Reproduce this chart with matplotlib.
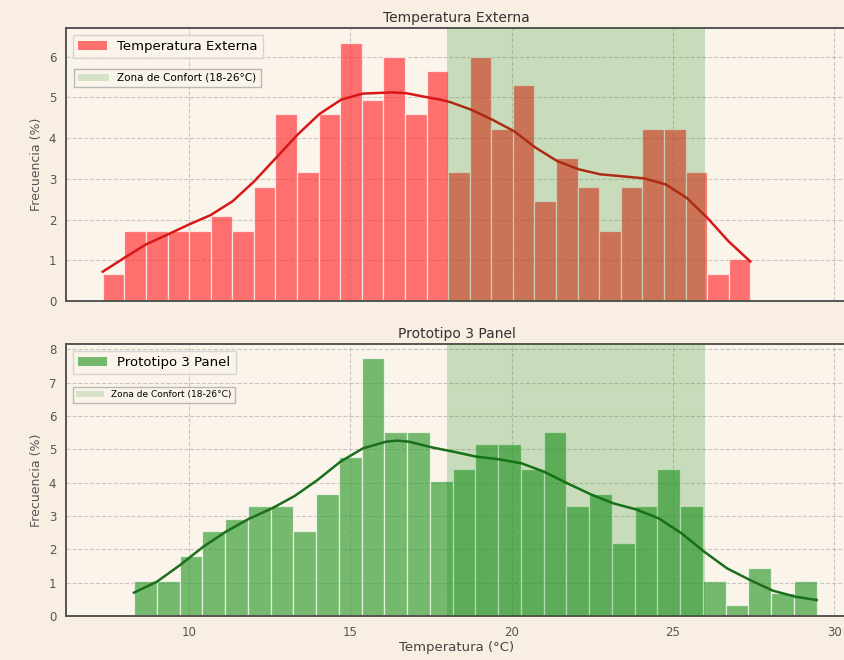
import numpy as np
import matplotlib
matplotlib.use('Agg')
import matplotlib.pyplot as plt
from matplotlib.patches import Patch

# bin ranges (degC) and bar heights (%), 30 bins each
ext_range = (7.32, 27.40)
ext_pct = [0.67, 1.73, 1.73, 1.73, 1.73, 2.09, 1.73, 2.80, 4.59, 3.16,
           4.59, 6.33, 4.93, 5.98, 4.59, 5.64, 3.16, 5.98, 4.22, 5.29,
           2.45, 3.51, 2.80, 1.73, 2.80, 4.22, 4.22, 3.16, 0.67, 1.02]

p3_range = (8.29, 29.46)
p3_pct = [1.06, 1.06, 1.80, 2.55, 2.92, 3.30, 3.30, 2.55, 3.67, 4.78,
          7.75, 5.52, 5.52, 4.05, 4.40, 5.15, 5.15, 4.40, 5.52, 3.30,
          3.67, 2.20, 3.30, 4.40, 3.30, 1.06, 0.33, 1.44, 0.70, 1.06]

# kde curves
ext_kde_t = [7.32, 7.99, 8.66, 9.33, 10.0, 10.67, 11.35, 12.02, 12.69, 13.37,
             14.04, 14.71, 15.38, 16.3, 16.73, 17.38, 17.8, 18.1, 18.73, 19.40,
             20.07, 20.75, 21.42, 22.09, 22.74, 23.44, 24.11, 24.78, 25.43, 26.07,
             26.72, 27.40]
ext_kde_v = [0.72, 1.06, 1.39, 1.63, 1.88, 2.11, 2.45, 2.94, 3.51, 4.09,
             4.59, 4.94, 5.09, 5.12, 5.10, 5.00, 4.94, 4.88, 4.70, 4.45,
             4.17, 3.76, 3.43, 3.23, 3.11, 3.06, 3.01, 2.86, 2.53, 2.04,
             1.47, 0.97]

p3_kde_t = [8.29, 9.0, 9.72, 10.44, 11.14, 11.84, 12.57, 13.27, 13.98, 14.69,
            15.39, 16.11, 16.45, 16.81, 17.52, 18.19, 18.90, 19.61, 20.31, 21.0,
            21.73, 22.43, 23.15, 23.85, 24.56, 25.27, 25.97, 26.68, 27.39, 28.10,
            28.79, 29.46]
p3_kde_v = [0.70, 1.03, 1.53, 2.08, 2.53, 2.91, 3.23, 3.60, 4.08, 4.63,
            5.03, 5.23, 5.26, 5.23, 5.06, 4.93, 4.78, 4.70, 4.58, 4.33,
            3.98, 3.66, 3.38, 3.20, 2.93, 2.48, 1.93, 1.43, 1.08, 0.76,
            0.58, 0.48]

comfort = (18, 26)

bg = '#f8eee2'
face = '#fbf4ea'

fig = plt.figure(figsize=(8.45, 6.6), dpi=100, facecolor=bg)
ax1 = fig.add_axes([66/845, 1-301/660, 781/845, 273/660])
ax2 = fig.add_axes([66/845, 1-616/660, 781/845, 272/660])

panels = [
    (ax1, ext_range, ext_pct, ext_kde_t, ext_kde_v, '#ff2a2a', '#d81818', 'Temperatura Externa', 6.7, 7, 9.5, 7.5, 0.87),
    (ax2, p3_range, p3_pct, p3_kde_t, p3_kde_v, '#2e9a2e', '#1b6e1b', 'Prototipo 3 Panel', 8.16, 9, 9.5, 6.5, 0.86),
]

for ax, rng, pct, kt, kv, col, lcol, name, ytop, nyt, fs1, fs2, yleg in panels:
    ax.set_facecolor(face)
    edges = np.linspace(rng[0], rng[1], len(pct) + 1)
    ax.bar(edges[:-1], pct, width=np.diff(edges), align='edge', color=col,
           alpha=0.65, edgecolor='white', linewidth=0.9, zorder=2)
    ax.plot(kt, kv, color=lcol, linewidth=1.8, solid_joinstyle='round', zorder=3)
    ax.axvspan(comfort[0], comfort[1], color='green', alpha=0.2, linewidth=0, zorder=4)

    ax.set_xlim(6.18, 30.4)
    ax.set_ylim(0, ytop)
    ax.set_xticks([10, 15, 20, 25, 30])
    ax.set_yticks(range(nyt))
    ax.grid(True, linestyle='--', color='#aaaaaa', alpha=0.6, linewidth=0.8, zorder=0)
    ax.set_axisbelow(True)
    for s in ax.spines.values():
        s.set_color('#555555')
        s.set_linewidth(1.4)
    ax.tick_params(length=0, labelsize=8.5, labelcolor='#555555', pad=7)
    ax.set_ylabel('Frecuencia (%)', fontsize=9, color='#555555')
    ax.set_title(name, fontsize=10, color='#333333', pad=4)

    h1 = Patch(facecolor=col, alpha=0.65, label=name)
    leg1 = ax.legend(handles=[h1], loc='upper left', fontsize=fs1, frameon=True,
                     facecolor=face, edgecolor='#cccccc', fancybox=False,
                     borderaxespad=0.5, handlelength=2.2)
    leg1.set_zorder(6)
    ax.add_artist(leg1)
    h2 = Patch(facecolor='green', alpha=0.15, label='Zona de Confort (18-26°C)')
    leg2 = ax.legend(handles=[h2], loc='upper left', fontsize=fs2, frameon=True,
                     facecolor=face, edgecolor='#aaaaaa', fancybox=False,
                     bbox_to_anchor=(0.003, yleg), handlelength=3)
    leg2.set_zorder(6)

ax1.tick_params(labelbottom=False)
ax2.set_xlabel('Temperatura (°C)', fontsize=9.5, color='#444444', labelpad=2)

plt.savefig('out.png', dpi=100, facecolor=bg)
